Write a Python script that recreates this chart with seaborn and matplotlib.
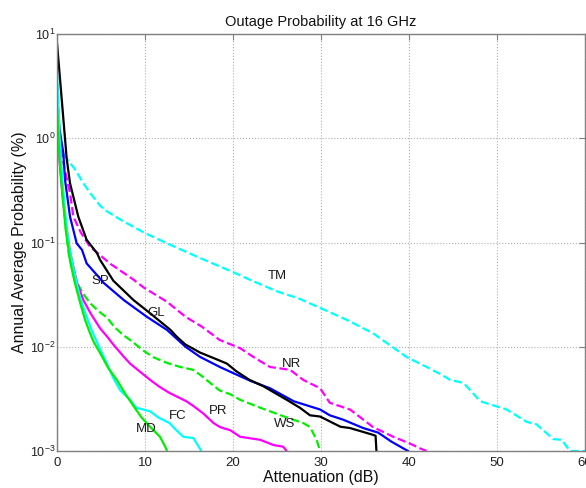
import numpy as np
import pandas as pd
import seaborn as sns
import matplotlib.pyplot as plt
from matplotlib.ticker import LogLocator, NullLocator

# attenuation (dB) / annual average probability (%)
tm_x = [0, 0.34, 0.72, 1.2, 2.0, 3.0, 3.75, 4.9, 5.64, 7.35, 10, 13, 16.25, 20, 21.9, 25, 27.5,
        30.45, 33, 35.9, 39.7, 42, 43.5, 44.7, 46.2, 48.1, 51.1, 53.4, 54.5, 56.4, 57.35, 58.3, 60]
tm_y = [4.3, 1.0, 0.72, 0.62, 0.51, 0.37, 0.30, 0.225, 0.20, 0.163, 0.123, 0.094, 0.071, 0.052, 0.044,
        0.034, 0.029, 0.0225, 0.018, 0.0135, 0.008, 0.0064, 0.0055, 0.0048, 0.0045, 0.003, 0.0025,
        0.0019, 0.0018, 0.0013, 0.00128, 0.001, 0.001]

nr_x = [0, 0.5, 1.0, 1.48, 1.86, 2.7, 3.75, 4.55, 6.0, 8.7, 9.85, 12.5, 14.6, 16.5, 18.5, 20.8,
        22.5, 24.2, 26.5, 28.0, 29.9, 31.0, 33.3, 35.9, 38.2, 40.1, 41.25, 42.0]
nr_y = [1.7, 0.7, 0.45, 0.30, 0.177, 0.125, 0.091, 0.08, 0.063, 0.044, 0.037, 0.027, 0.0194, 0.0155,
        0.0116, 0.0097, 0.0078, 0.0064, 0.006, 0.0048, 0.004, 0.0029, 0.0025, 0.0017, 0.00137,
        0.00118, 0.00106, 0.001]

sp_x = [0, 0.3, 0.72, 0.91, 1.48, 2.24, 2.84, 3.37, 4.9, 5.3, 7.6, 10.2, 12.5, 14.6, 16.25, 18.5,
        20.0, 22.0, 24.2, 26.9, 29.9, 31.0, 32.5, 34.8, 36.5, 38.0, 39.35, 39.9]
sp_y = [2.0, 1.2, 0.72, 0.4, 0.177, 0.098, 0.085, 0.063, 0.045, 0.041, 0.028, 0.0194, 0.0145, 0.010,
        0.0080, 0.0064, 0.0056, 0.0047, 0.004, 0.003, 0.0025, 0.0022, 0.002, 0.00166, 0.0015,
        0.00123, 0.00106, 0.001]

gl_x = [0, 1.1, 1.48, 2.42, 3.37, 4.55, 4.9, 6.4, 8.7, 10.6, 12.9, 13.6, 14.6, 16.25, 18.1, 19.3,
        20.4, 21.9, 23.4, 26.1, 27.6, 28.75, 29.9, 32.2, 33.3, 35.9, 36.2, 36.3]
gl_y = [8.2, 0.64, 0.37, 0.177, 0.106, 0.079, 0.068, 0.043, 0.028, 0.0209, 0.0145, 0.0125, 0.0105,
        0.0088, 0.0076, 0.0069, 0.0058, 0.0048, 0.0042, 0.0031, 0.0026, 0.0022, 0.00214, 0.00171,
        0.00166, 0.00143, 0.0014, 0.001]

ws_x = [0, 0.3, 0.6, 1.0, 1.33, 1.8, 2.27, 3.0, 3.8, 4.7, 5.7, 6.5, 7.6, 8.5, 9.8, 11, 12.5, 14,
        15.5, 16.5, 17.4, 18.5, 19.7, 20.8, 23.1, 26.1, 28.0, 28.75, 29.5, 29.9]
ws_y = [1.9, 0.7, 0.35, 0.14, 0.079, 0.055, 0.041, 0.032, 0.026, 0.022, 0.019, 0.0155, 0.0128, 0.0113,
        0.0092, 0.0079, 0.007, 0.0064, 0.006, 0.0052, 0.0045, 0.0038, 0.0035, 0.0031, 0.0026,
        0.0021, 0.00185, 0.0017, 0.00128, 0.001]

pr_x = [0, 0.3, 0.6, 1.0, 1.5, 2.27, 3.0, 3.8, 4.9, 5.7, 6.4, 7.6, 8.3, 9.5, 10.6, 11.7, 12.8, 14.7,
        15.5, 16.6, 17.8, 18.5, 19.7, 20.8, 23.1, 24.6, 25.7, 26.1]
pr_y = [1.7, 0.6, 0.3, 0.15, 0.08, 0.041, 0.028, 0.021, 0.015, 0.0125, 0.0105, 0.008, 0.0069, 0.0057,
        0.0048, 0.0041, 0.0036, 0.003, 0.0027, 0.0023, 0.00185, 0.0017, 0.00158, 0.00137, 0.00128,
        0.00114, 0.0011, 0.001]

fc_x = [0, 0.3, 0.6, 0.9, 1.3, 1.8, 2.6, 3.3, 4.0, 4.9, 5.7, 6.4, 7.2, 8.3, 9.0, 10.6, 11.5, 12.8,
        13.5, 14.35, 15.5, 16.25, 16.4]
fc_y = [4.3, 1.0, 0.4, 0.2, 0.1, 0.06, 0.03, 0.02, 0.014, 0.0095, 0.0068, 0.005, 0.0038, 0.0031,
        0.0026, 0.0024, 0.0021, 0.00185, 0.0016, 0.00137, 0.00133, 0.00105, 0.001]

md_x = [0, 0.3, 0.6, 1.0, 1.5, 2.0, 2.65, 3.2, 3.75, 4.2, 4.9, 5.8, 6.8, 7.7, 8.7, 9.6, 10.6, 11.7,
        12.3, 12.5]
md_y = [2.0, 0.6, 0.3, 0.13, 0.065, 0.042, 0.026, 0.018, 0.0135, 0.011, 0.0087, 0.0063, 0.0048,
        0.0036, 0.0027, 0.0021, 0.0017, 0.00137, 0.0011, 0.001]

series = [
    ("TM", tm_x, tm_y, "#00ffff", "--", 25.0, 0.0478),
    ("NR", nr_x, nr_y, "#ff00ff", "--", 26.7, 0.00683),
    ("SP", sp_x, sp_y, "#0000ff", "-", 4.9, 0.0428),
    ("GL", gl_x, gl_y, "#000000", "-", 11.25, 0.0211),
    ("WS", ws_x, ws_y, "#00f000", "--", 25.9, 0.00182),
    ("PR", pr_x, pr_y, "#ff00ff", "-", 18.3, 0.00242),
    ("FC", fc_x, fc_y, "#00ffff", "-", 13.75, 0.00217),
    ("MD", md_x, md_y, "#00f000", "-", 10.1, 0.00163),
]

sns.set_theme(style="white")
plt.rcParams['font.family'] = ['Liberation Sans', 'DejaVu Sans']
plt.rcParams['mathtext.default'] = 'regular'

fig = plt.figure(figsize=(5.86, 4.88), dpi=100)
ax = fig.add_axes([57 / 586, 37 / 488, 528 / 586, 417 / 488])

for name, xs, ys, color, ls, lx, ly in series:
    df = pd.DataFrame({"x": xs, "y": ys})
    sns.lineplot(data=df, x="x", y="y", ax=ax, color=color, linestyle=ls,
                 linewidth=1.6, estimator=None, sort=False)
    ax.text(lx, ly, name, fontsize=9.5, ha="center", va="center", color="#1a1a1a")

ax.set_yscale("log")
ax.set_xlim(0, 60)
ax.set_ylim(1e-3, 10)
ax.set_xticks([0, 10, 20, 30, 40, 50, 60])
ax.yaxis.set_major_locator(LogLocator(base=10, numticks=10))
ax.yaxis.set_minor_locator(NullLocator())

ax.grid(True, which="major", linestyle=":", color="#b0b0b0", linewidth=0.8)
for sp in ax.spines.values():
    sp.set_color("#808080")
    sp.set_linewidth(1.0)
ax.tick_params(direction="in", top=True, right=True, length=4, width=0.8,
               color="#808080", labelcolor="#222222")
ax.tick_params(axis="y", pad=0.8, labelsize=9)
ax.tick_params(axis="x", pad=4, labelsize=9.5)

ax.set_title("Outage Probability at 16 GHz", fontsize=10.5, color="#111111", pad=6)
ax.set_xlabel("Attenuation (dB)", fontsize=11.5, color="#111111", labelpad=1)
ax.set_ylabel("Annual Average Probability (%)", fontsize=11.5, color="#111111")
ax.yaxis.set_label_coords(-0.056, 0.5)

fig.savefig("out.png", dpi=100)
